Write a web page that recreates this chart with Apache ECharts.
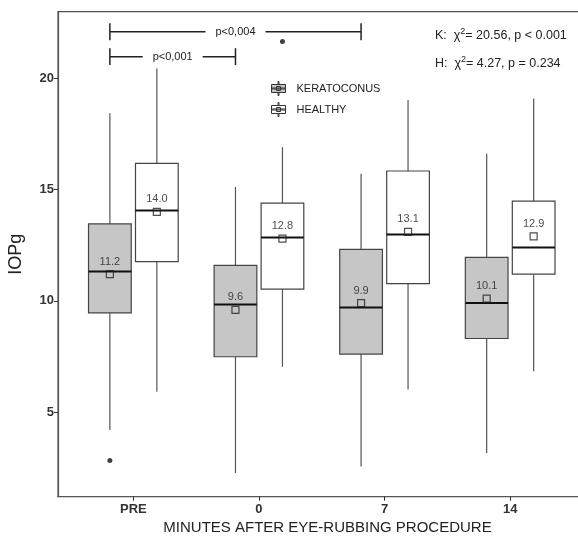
<!DOCTYPE html>
<html>
<head>
<meta charset="utf-8">
<script src="https://cdn.jsdelivr.net/npm/echarts@6/dist/echarts.min.js"></script>
<style>html,body{margin:0;padding:0;background:#fff}#c{width:578px;height:536px}</style>
</head>
<body>
<div id="c"></div>
<script>
const categories = ['PRE', '0', '7', '14'];
// Keratoconus box statistics
const kerMin  = [4.20, 2.26, 2.56, 3.16];
const kerQ1   = [9.46, 7.49, 7.61, 8.31];
const kerMed  = [11.32, 9.84, 9.70, 9.91];
const kerQ3   = [13.46, 11.60, 12.32, 11.96];
const kerMax  = [18.43, 15.12, 15.72, 16.62];
const kerMean = [11.2, 9.6, 9.9, 10.1];
// Healthy box statistics
const heaMin  = [5.92, 7.04, 6.02, 6.84];
const heaQ1   = [11.77, 10.53, 10.78, 11.20];
const heaMed  = [14.06, 12.85, 12.98, 12.40];
const heaQ3   = [16.18, 14.40, 15.84, 14.49];
const heaMax  = [20.45, 16.91, 19.03, 19.10];
const heaMean = [14.0, 12.8, 13.1, 12.9];
// Outliers: [category index, group (0=K,1=H), value]
const outliers = [[0, 0, 2.83], [1, 1, 21.66]];
// Pairwise comparisons (keratoconus): [from category, to category, label]
const comparisons = [[0, 1, 'p<0,001'], [0, 2, 'p<0,004']];
const comparisonLevels = [20.98, 22.1];
const yTicks = [5, 10, 15, 20];

const OFF = 0.187, BW = 0.34;
const FONT = 'Arial, "Liberation Sans", Helvetica, sans-serif';

function boxData(mn, q1, md, q3, mx) {
  return categories.map((c, i) => [i + 1, mn[i], q1[i], md[i], q3[i], mx[i]]);
}
function boxRender(offset, fill) {
  return function (params, api) {
    const x = api.value(0) + offset;
    const p = (v) => api.coord([x, v]);
    const cx = p(api.value(1))[0];
    const yMin = p(api.value(1))[1], yQ1 = p(api.value(2))[1], yMed = p(api.value(3))[1],
          yQ3 = p(api.value(4))[1], yMax = p(api.value(5))[1];
    const half = api.size([BW, 0])[0] / 2;
    const ws = { stroke: '#555', lineWidth: 1.2 };
    return { type: 'group', children: [
      { type: 'line', shape: { x1: cx, y1: yMax, x2: cx, y2: yQ3 }, style: ws },
      { type: 'line', shape: { x1: cx, y1: yQ1, x2: cx, y2: yMin }, style: ws },
      { type: 'rect', shape: { x: cx - half, y: yQ3, width: 2 * half, height: yQ1 - yQ3 },
        style: { fill: fill, stroke: '#444', lineWidth: 1.2 } },
      { type: 'line', shape: { x1: cx - half, y1: yMed, x2: cx + half, y2: yMed },
        style: { stroke: '#111', lineWidth: 2 } }
    ]};
  };
}
function bracketRender(params, api) {
  const i = params.dataIndex;
  const y = comparisonLevels[i];
  const a = api.coord([api.value(0), y]);
  const b = api.coord([api.value(1), y]);
  const capTop = api.coord([api.value(0), y + 0.38])[1];
  const capBot = api.coord([api.value(0), y - 0.38])[1];
  const mid = (a[0] + b[0]) / 2, gap = 30;
  const st = { stroke: '#222', lineWidth: 1.5 };
  return { type: 'group', children: [
    { type: 'line', shape: { x1: a[0], y1: a[1], x2: mid - gap, y2: a[1] }, style: st },
    { type: 'line', shape: { x1: mid + gap, y1: a[1], x2: b[0], y2: a[1] }, style: st },
    { type: 'line', shape: { x1: a[0], y1: capTop, x2: a[0], y2: capBot }, style: st },
    { type: 'line', shape: { x1: b[0], y1: capTop, x2: b[0], y2: capBot }, style: st },
    { type: 'text', style: { text: comparisons[i][2], x: mid, y: a[1], align: 'center',
        verticalAlign: 'middle', fontSize: 11, fontFamily: FONT, fill: '#222' } }
  ]};
}
function meanSeries(name, means, offset) {
  return {
    type: 'scatter', name: name + ' mean', z: 6,
    data: means.map((m, i) => [i + 1 + offset, m]),
    symbol: 'rect', symbolSize: 7,
    itemStyle: { color: 'rgba(255,255,255,0)', borderColor: '#222', borderWidth: 1.2 },
    label: { show: true, position: 'top', distance: 3, fontSize: 11, fontFamily: FONT, color: '#222',
      formatter: (p) => p.value[1].toFixed(1) },
    silent: true
  };
}

const legendIcon = 'path://M0,3H14V11H0Z M6.5,0H7.5V3H6.5Z M6.5,11H7.5V14H6.5Z M0,6.5H14V7.5H0Z M5,5H9V9H5Z';
const richStats = {
  a: { fontSize: 12.5, fontWeight: 'normal', fontFamily: FONT, color: '#222' },
  b: { fontSize: 9, fontWeight: 'normal', fontFamily: FONT, color: '#222', padding: [0, 0, 8, 0] }
};

const chart = echarts.init(document.getElementById('c'), null, { renderer: 'canvas' });
chart.setOption({
  animation: false,
  backgroundColor: '#fff',
  grid: { left: 58, right: -2, top: 11.7, bottom: 39.3, show: true, borderColor: '#555', borderWidth: 1.2,
          containLabel: false, outerBoundsMode: 'none' },
  title: [
    { text: '{a|K:  χ}{b|2}{a|= 20.56, p < 0.001}', left: 435, top: 27, padding: 0,
      textStyle: { fontWeight: 'normal', rich: richStats } },
    { text: '{a|H:  χ}{b|2}{a|= 4.27, p = 0.234}', left: 435, top: 55, padding: 0,
      textStyle: { fontWeight: 'normal', rich: richStats } }
  ],
  legend: {
    data: ['KERATOCONUS', 'HEALTHY'], orient: 'vertical', left: 266, top: 76,
    itemWidth: 14, itemHeight: 14, itemGap: 6, icon: legendIcon,
    itemStyle: { borderColor: '#333', borderWidth: 1 },
    textStyle: { fontSize: 11, fontFamily: FONT, color: '#222', padding: [0, 0, 0, 6] },
    selectedMode: false
  },
  xAxis: {
    type: 'value', min: 0.4, max: 4.556,
    name: 'MINUTES AFTER EYE-RUBBING PROCEDURE', nameLocation: 'middle', nameGap: 22,
    nameTextStyle: { fontSize: 15, fontFamily: FONT, color: '#222', padding: [0, 0, 0, 17] },
    axisLine: { show: true, lineStyle: { color: '#555', width: 1.2 } },
    axisTick: { show: true, customValues: [1, 2, 3, 4], length: 4, lineStyle: { color: '#333' } },
    axisLabel: { customValues: [1, 2, 3, 4], formatter: (v) => categories[Math.round(v) - 1],
      fontSize: 13, fontWeight: 'bold', fontFamily: FONT, color: '#333', margin: 6 },
    splitLine: { show: false }
  },
  yAxis: {
    type: 'value', min: 1.2, max: 23,
    name: 'IOPg', nameLocation: 'middle', nameGap: 33,
    nameTextStyle: { fontSize: 18, fontFamily: FONT, color: '#222' },
    axisLine: { show: true, lineStyle: { color: '#555', width: 1.2 } },
    axisTick: { show: true, customValues: yTicks, length: 4, lineStyle: { color: '#333' } },
    axisLabel: { customValues: yTicks, fontSize: 13, fontWeight: 'bold', fontFamily: FONT, color: '#333', margin: 4 },
    splitLine: { show: false }
  },
  series: [
    { type: 'custom', name: 'KERATOCONUS', itemStyle: { color: '#c6c6c6' },
      data: boxData(kerMin, kerQ1, kerMed, kerQ3, kerMax), encode: { x: 0, y: [1, 2, 3, 4, 5] },
      renderItem: boxRender(-OFF, '#c6c6c6'), z: 2 },
    { type: 'custom', name: 'HEALTHY', itemStyle: { color: '#ffffff' },
      data: boxData(heaMin, heaQ1, heaMed, heaQ3, heaMax), encode: { x: 0, y: [1, 2, 3, 4, 5] },
      renderItem: boxRender(OFF, '#ffffff'), z: 2 },
    meanSeries('KERATOCONUS', kerMean, -OFF),
    meanSeries('HEALTHY', heaMean, OFF),
    { type: 'scatter', name: 'outliers', symbol: 'circle', symbolSize: 5, z: 6,
      itemStyle: { color: '#111' }, silent: true,
      data: outliers.map((o) => [o[0] + 1 + (o[1] === 0 ? -OFF : OFF), o[2]]) },
    { type: 'custom', name: 'comparisons', silent: true, z: 4,
      data: comparisons.map((c) => [c[0] + 1 - OFF, c[1] + 1 - OFF]),
      encode: { x: [0, 1] }, renderItem: bracketRender }
  ]
});
</script>
</body>
</html>
